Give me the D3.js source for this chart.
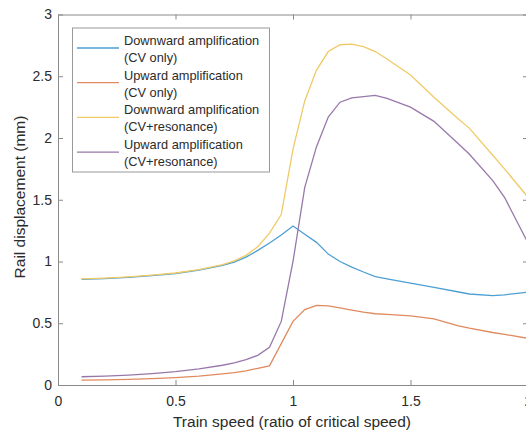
<!DOCTYPE html>
<html>
<head>
<meta charset="utf-8">
<script src="https://cdn.jsdelivr.net/npm/d3@7"></script>
<style>
  body { margin: 0; background: #fff; }
  svg { font-family: "Liberation Sans", Arial, sans-serif; }
</style>
</head>
<body>
<div id="viz"></div>
<script>
// train speed as ratio of critical speed
const speeds = [0.1, 0.2, 0.3, 0.4, 0.5, 0.6, 0.7, 0.75, 0.8, 0.85, 0.9, 0.95, 1.0, 1.05,
  1.1, 1.15, 1.2, 1.25, 1.3, 1.35, 1.4, 1.5, 1.6, 1.7, 1.75, 1.85, 1.9, 2.0];

// rail displacement (mm)
const downCV = [0.856, 0.862, 0.872, 0.886, 0.903, 0.93, 0.968, 0.995, 1.035, 1.09, 1.15, 1.215, 1.287, 1.22,
  1.155, 1.06, 1.0, 0.955, 0.915, 0.878, 0.86, 0.825, 0.79, 0.755, 0.737, 0.723, 0.73, 0.752];
const upCV = [0.04, 0.042, 0.046, 0.052, 0.06, 0.072, 0.09, 0.1, 0.115, 0.135, 0.155, 0.335, 0.515, 0.61,
  0.645, 0.64, 0.625, 0.607, 0.59, 0.577, 0.572, 0.56, 0.535, 0.48, 0.46, 0.425, 0.41, 0.378];
const downRes = [0.86, 0.866, 0.876, 0.89, 0.907, 0.935, 0.975, 1.005, 1.05, 1.12, 1.23, 1.38, 1.91, 2.3,
  2.55, 2.7, 2.755, 2.76, 2.74, 2.7, 2.64, 2.51, 2.33, 2.16, 2.08, 1.86, 1.75, 1.52];
const upRes = [0.067, 0.072, 0.08, 0.092, 0.108, 0.13, 0.16, 0.18, 0.205, 0.24, 0.305, 0.515, 1.0, 1.6,
  1.93, 2.17, 2.29, 2.325, 2.335, 2.345, 2.32, 2.25, 2.135, 1.96, 1.87, 1.655, 1.52, 1.15];

const seriesNames = [
  ["Downward amplification", "(CV only)"],
  ["Upward amplification", "(CV only)"],
  ["Downward amplification", "(CV+resonance)"],
  ["Upward amplification", "(CV+resonance)"]
];
const seriesValues = [downCV, upCV, downRes, upRes];
const colors = ["#4d9fd3", "#e08a60", "#efca66", "#9878aa"];

const xTicks = [0, 0.5, 1, 1.5, 2];
const yTicks = [0, 0.5, 1, 1.5, 2, 2.5, 3];

const W = 526, H = 435;
const mLeft = 58, mRight = 528, mTop = 14.5, mBottom = 385;

const svg = d3.select("#viz").append("svg")
  .attr("width", W)
  .attr("height", H);

const x = d3.scaleLinear().domain([0, 2]).range([mLeft, mRight]);
const y = d3.scaleLinear().domain([0, 3]).range([mBottom, mTop]);

const axisColor = "#8a8a8a";
const textColor = "#2b2b2b";

// lines first, box on top
const line = d3.line()
  .x((d, i) => x(speeds[i]))
  .y(d => y(d));

svg.selectAll(".series")
  .data(seriesValues)
  .join("path")
  .attr("class", "series")
  .attr("fill", "none")
  .attr("stroke", (d, i) => colors[i])
  .attr("stroke-width", 1.3)
  .attr("d", line);

// axes, ticks pointing inward like matlab
function styleAxis(g) {
  g.select(".domain").attr("stroke", axisColor);
  g.selectAll(".tick line").attr("stroke", axisColor);
  g.selectAll(".tick text").attr("fill", textColor).attr("font-size", 14);
}

svg.append("g")
  .attr("transform", `translate(0,${mBottom})`)
  .call(d3.axisBottom(x).tickValues(xTicks).tickSizeInner(-5).tickSizeOuter(0).tickPadding(11.5)
    .tickFormat(d3.format("~g")))
  .call(styleAxis);

svg.append("g")
  .attr("transform", `translate(0,${mTop})`)
  .call(d3.axisTop(x).tickValues(xTicks).tickSizeInner(-5).tickSizeOuter(0).tickFormat(""))
  .call(styleAxis);

svg.append("g")
  .attr("transform", `translate(${mLeft},0)`)
  .call(d3.axisLeft(y).tickValues(yTicks).tickSizeInner(-5).tickSizeOuter(0).tickPadding(6)
    .tickFormat(d3.format("~g")))
  .call(styleAxis);

svg.append("g")
  .attr("transform", `translate(${mRight},0)`)
  .call(d3.axisRight(y).tickValues(yTicks).tickSizeInner(-5).tickSizeOuter(0).tickFormat(""))
  .call(styleAxis);

// axis titles
svg.append("text")
  .attr("x", (mLeft + mRight) / 2 - 1)
  .attr("y", 427)
  .attr("text-anchor", "middle")
  .attr("font-size", 15.5)
  .attr("fill", textColor)
  .text("Train speed (ratio of critical speed)");

svg.append("text")
  .attr("transform", "translate(25,197) rotate(-90)")
  .attr("text-anchor", "middle")
  .attr("font-size", 15.5)
  .attr("fill", textColor)
  .text("Rail displacement (mm)");

// legend
const legend = svg.append("g");
legend.append("rect")
  .attr("x", 72.5)
  .attr("y", 28)
  .attr("width", 197)
  .attr("height", 144)
  .attr("fill", "#fff")
  .attr("stroke", "#999");

const rowH = 34.7;
const entries = legend.selectAll(".entry")
  .data(seriesNames)
  .join("g")
  .attr("class", "entry")
  .attr("transform", (d, i) => `translate(0,${i * rowH})`);

entries.append("line")
  .attr("x1", 77).attr("x2", 119)
  .attr("y1", 48).attr("y2", 48)
  .attr("stroke", (d, i) => colors[i])
  .attr("stroke-width", 1.3);

entries.append("text")
  .attr("x", 124)
  .attr("y", 45)
  .attr("font-size", 12.8)
  .attr("fill", textColor)
  .text(d => d[0]);

entries.append("text")
  .attr("x", 124)
  .attr("y", 62)
  .attr("font-size", 12.8)
  .attr("fill", textColor)
  .text(d => d[1]);
</script>
</body>
</html>
